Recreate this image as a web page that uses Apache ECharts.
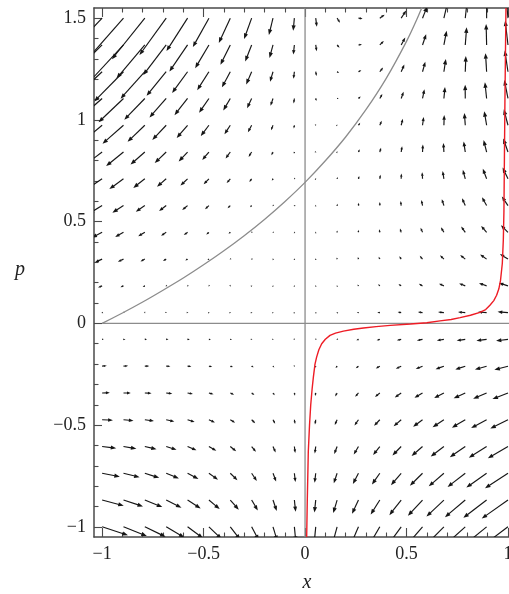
<!DOCTYPE html>
<html>
<head>
<meta charset="utf-8">
<script src="https://cdn.jsdelivr.net/npm/echarts@6/dist/echarts.min.js"></script>
<style>
html,body{margin:0;padding:0;background:#ffffff;}
#chart{width:509px;height:594px;}
</style>
</head>
<body>
<div id="chart"></div>
<script>
// ---- grid of sample points (x columns, p rows) ----
const gridX = [-1, -0.8947, -0.7895, -0.6842, -0.5789, -0.4737, -0.3684, -0.2632, -0.1579, -0.0526,
               0.0526, 0.1579, 0.2632, 0.3684, 0.4737, 0.5789, 0.6842, 0.7895, 0.8947, 1];
const gridP = [-1, -0.8684, -0.7368, -0.6053, -0.4737, -0.3421, -0.2105, -0.0789, 0.0526, 0.1842,
               0.3158, 0.4474, 0.5789, 0.7105, 0.8421, 0.9737, 1.1053, 1.2368, 1.3684, 1.5];

// ---- vector components read per row (row = p level, bottom to top) ----
const fieldDx = [
 [4.70,4.24,3.77,3.30,2.81,2.32,1.82,1.31,0.79,0.27,-0.27,-0.81,-1.36,-1.92,-2.48,-3.06,-3.64,-4.23,-4.83,-5.44],
 [3.93,3.55,3.17,2.78,2.38,1.96,1.54,1.12,0.68,0.23,-0.23,-0.70,-1.17,-1.66,-2.15,-2.66,-3.17,-3.69,-4.23,-4.77],
 [3.22,2.93,2.62,2.31,1.98,1.65,1.30,0.94,0.57,0.19,-0.20,-0.60,-1.01,-1.43,-1.86,-2.30,-2.76,-3.22,-3.69,-4.18],
 [2.57,2.35,2.12,1.88,1.62,1.35,1.07,0.78,0.48,0.16,-0.17,-0.51,-0.86,-1.22,-1.60,-1.99,-2.39,-2.80,-3.23,-3.66],
 [1.97,1.82,1.66,1.48,1.29,1.09,0.87,0.64,0.39,0.13,-0.14,-0.42,-0.72,-1.04,-1.37,-1.71,-2.06,-2.43,-2.82,-3.21],
 [1.40,1.32,1.22,1.11,0.98,0.84,0.68,0.50,0.31,0.11,-0.11,-0.35,-0.60,-0.87,-1.16,-1.46,-1.77,-2.11,-2.45,-2.82],
 [0.85,0.84,0.80,0.76,0.69,0.60,0.50,0.38,0.24,0.09,-0.09,-0.28,-0.49,-0.72,-0.97,-1.23,-1.51,-1.81,-2.13,-2.47],
 [0.32,0.37,0.40,0.42,0.41,0.38,0.33,0.26,0.17,0.06,-0.07,-0.22,-0.39,-0.58,-0.79,-1.03,-1.28,-1.56,-1.85,-2.16],
 [-0.21,-0.09,0.01,0.08,0.13,0.16,0.17,0.15,0.11,0.04,-0.05,-0.16,-0.30,-0.45,-0.64,-0.84,-1.07,-1.32,-1.60,-1.90],
 [-0.74,-0.55,-0.39,-0.25,-0.14,-0.05,0.01,0.04,0.04,0.02,-0.03,-0.10,-0.20,-0.33,-0.49,-0.67,-0.88,-1.11,-1.38,-1.66],
 [-1.28,-1.02,-0.79,-0.58,-0.41,-0.27,-0.15,-0.07,-0.02,0.00,-0.01,-0.05,-0.12,-0.22,-0.35,-0.51,-0.70,-0.92,-1.18,-1.46],
 [-1.85,-1.51,-1.20,-0.93,-0.69,-0.49,-0.32,-0.18,-0.08,-0.02,0.01,0.01,-0.03,-0.11,-0.22,-0.36,-0.54,-0.75,-1.00,-1.28],
 [-2.45,-2.02,-1.64,-1.29,-0.98,-0.71,-0.49,-0.30,-0.15,-0.04,0.03,0.06,0.05,0.00,-0.09,-0.21,-0.38,-0.59,-0.84,-1.12],
 [-3.09,-2.57,-2.10,-1.67,-1.29,-0.96,-0.66,-0.42,-0.22,-0.06,0.05,0.12,0.14,0.11,0.04,-0.07,-0.23,-0.44,-0.69,-0.98],
 [-3.78,-3.16,-2.60,-2.09,-1.62,-1.21,-0.85,-0.55,-0.29,-0.08,0.07,0.17,0.22,0.22,0.17,0.07,-0.09,-0.29,-0.55,-0.86],
 [-4.54,-3.81,-3.14,-2.53,-1.98,-1.49,-1.06,-0.68,-0.36,-0.11,0.09,0.23,0.31,0.34,0.30,0.21,0.06,-0.16,-0.43,-0.76],
 [-5.38,-4.53,-3.74,-3.03,-2.38,-1.79,-1.28,-0.83,-0.45,-0.13,0.12,0.30,0.41,0.46,0.44,0.35,0.20,-0.02,-0.31,-0.66],
 [-6.31,-5.32,-4.41,-3.57,-2.81,-2.13,-1.52,-0.99,-0.54,-0.16,0.14,0.37,0.52,0.59,0.58,0.50,0.35,0.11,-0.20,-0.58],
 [-7.35,-6.21,-5.15,-4.18,-3.30,-2.50,-1.79,-1.17,-0.64,-0.19,0.17,0.44,0.63,0.73,0.74,0.66,0.50,0.25,-0.09,-0.51],
 [-8.52,-7.20,-5.98,-4.86,-3.84,-2.92,-2.09,-1.37,-0.75,-0.22,0.20,0.53,0.75,0.88,0.91,0.83,0.66,0.39,0.02,-0.45]
];
const fieldDp = [
 [-1.54,-1.67,-1.81,-1.94,-2.07,-2.21,-2.34,-2.47,-2.60,-2.74,-2.87,-3.00,-3.14,-3.27,-3.40,-3.54,-3.67,-3.80,-3.94,-4.07],
 [-1.03,-1.15,-1.27,-1.39,-1.51,-1.64,-1.76,-1.88,-2.00,-2.12,-2.25,-2.37,-2.49,-2.61,-2.74,-2.86,-2.98,-3.10,-3.22,-3.35],
 [-0.61,-0.72,-0.83,-0.94,-1.05,-1.16,-1.27,-1.38,-1.49,-1.60,-1.71,-1.82,-1.93,-2.04,-2.15,-2.26,-2.37,-2.48,-2.59,-2.70],
 [-0.30,-0.40,-0.49,-0.59,-0.68,-0.78,-0.87,-0.97,-1.07,-1.16,-1.26,-1.35,-1.45,-1.54,-1.64,-1.73,-1.83,-1.93,-2.02,-2.12],
 [-0.08,-0.16,-0.24,-0.32,-0.40,-0.48,-0.56,-0.64,-0.71,-0.79,-0.87,-0.95,-1.03,-1.11,-1.19,-1.27,-1.35,-1.43,-1.51,-1.59],
 [0.05,-0.01,-0.07,-0.13,-0.19,-0.25,-0.31,-0.37,-0.43,-0.50,-0.56,-0.62,-0.68,-0.74,-0.80,-0.86,-0.92,-0.98,-1.04,-1.11],
 [0.10,0.06,0.02,-0.02,-0.06,-0.10,-0.14,-0.18,-0.22,-0.26,-0.30,-0.34,-0.38,-0.42,-0.46,-0.50,-0.54,-0.58,-0.62,-0.66],
 [0.06,0.05,0.03,0.02,0.00,-0.02,-0.03,-0.05,-0.06,-0.08,-0.10,-0.11,-0.13,-0.14,-0.16,-0.18,-0.19,-0.21,-0.22,-0.24],
 [-0.06,-0.05,-0.04,-0.03,-0.01,0.00,0.01,0.02,0.03,0.04,0.05,0.07,0.08,0.09,0.10,0.11,0.12,0.13,0.14,0.16],
 [-0.27,-0.23,-0.19,-0.14,-0.10,-0.06,-0.02,0.03,0.07,0.11,0.16,0.20,0.24,0.28,0.33,0.37,0.41,0.45,0.50,0.54],
 [-0.57,-0.49,-0.42,-0.34,-0.26,-0.18,-0.10,-0.03,0.05,0.13,0.21,0.29,0.37,0.44,0.52,0.60,0.68,0.76,0.83,0.91],
 [-0.97,-0.85,-0.73,-0.61,-0.50,-0.38,-0.26,-0.14,-0.02,0.10,0.22,0.34,0.45,0.57,0.69,0.81,0.93,1.05,1.17,1.29],
 [-1.47,-1.31,-1.14,-0.98,-0.81,-0.65,-0.48,-0.32,-0.15,0.01,0.18,0.34,0.51,0.67,0.84,1.00,1.17,1.33,1.50,1.66],
 [-2.09,-1.87,-1.65,-1.43,-1.22,-1.00,-0.78,-0.56,-0.34,-0.13,0.09,0.31,0.53,0.74,0.96,1.18,1.40,1.62,1.83,2.05],
 [-2.83,-2.55,-2.27,-1.99,-1.71,-1.43,-1.16,-0.88,-0.60,-0.32,-0.04,0.23,0.51,0.79,1.07,1.35,1.63,1.90,2.18,2.46],
 [-3.70,-3.35,-3.00,-2.66,-2.31,-1.96,-1.62,-1.27,-0.92,-0.58,-0.23,0.12,0.46,0.81,1.16,1.50,1.85,2.20,2.54,2.89],
 [-4.72,-4.30,-3.87,-3.45,-3.02,-2.60,-2.17,-1.75,-1.32,-0.89,-0.47,-0.04,0.38,0.81,1.23,1.66,2.08,2.51,2.93,3.36],
 [-5.91,-5.40,-4.89,-4.37,-3.86,-3.34,-2.83,-2.31,-1.80,-1.28,-0.77,-0.25,0.26,0.77,1.29,1.80,2.32,2.83,3.35,3.86],
 [-7.30,-6.68,-6.06,-5.45,-4.83,-4.21,-3.60,-2.98,-2.36,-1.75,-1.13,-0.51,0.10,0.72,1.34,1.95,2.57,3.19,3.80,4.42],
 [-8.89,-8.16,-7.43,-6.69,-5.96,-5.23,-4.50,-3.76,-3.03,-2.30,-1.56,-0.83,-0.10,0.64,1.37,2.10,2.84,3.57,4.30,5.04]
];

// ---- gray curves ----
const curveX = [-1,-0.9,-0.8,-0.7,-0.6,-0.5,-0.4,-0.3,-0.2,-0.1,0,0.1,0.2,0.3,0.4,0.5,0.55,0.6];
const curveP = [0,0.051,0.105,0.163,0.223,0.288,0.357,0.431,0.511,0.598,0.693,0.799,0.916,1.050,1.204,1.386,1.492,1.609];
const vertLineX = [0, 0];
const vertLineP = [-1.05, 1.55];
const horizLineX = [-1, 1.01];
const horizLineP = [0, 0];

// ---- red trajectory ----
const redX = [0.008,0.011,0.016,0.022,0.028,0.035,0.041,0.049,0.057,0.068,0.082,0.100,0.123,0.150,0.189,0.240,0.288,0.350,0.420,0.520,0.600,0.665,0.720,0.764,0.815,0.862,0.890,0.911,0.930,0.944,0.955,0.963,0.972,0.977,0.980,0.982,0.985,0.990];
const redP = [-1.05,-0.87,-0.63,-0.50,-0.40,-0.32,-0.264,-0.20,-0.166,-0.13,-0.10,-0.078,-0.059,-0.048,-0.038,-0.029,-0.023,-0.016,-0.010,-0.003,0.003,0.012,0.019,0.028,0.040,0.054,0.068,0.089,0.112,0.138,0.17,0.21,0.294,0.41,0.55,0.77,1.10,1.55];

// ---- ticks ----
const ticksXMajor = [-1,-0.5,0,0.5,1];
const ticksXMinor = [-0.9,-0.8,-0.7,-0.6,-0.4,-0.3,-0.2,-0.1,0.1,0.2,0.3,0.4,0.6,0.7,0.8,0.9];
const ticksPMajor = [-1,-0.5,0,0.5,1,1.5];
const ticksPMinor = [-0.9,-0.8,-0.7,-0.6,-0.4,-0.3,-0.2,-0.1,0.1,0.2,0.3,0.4,0.6,0.7,0.8,0.9,1.1,1.2,1.3,1.4];

// ---- build ----
const ARROW_SCALE = 0.0271;
const arrowData = [];
for (let j = 0; j < gridP.length; j++) {
  for (let k = 0; k < gridX.length; k++) {
    arrowData.push([gridX[k], gridP[j], fieldDx[j][k], fieldDp[j][k]]);
  }
}
const zip = (a, b) => a.map((v, i) => [v, b[i]]);

const FRAME = '#4a4a4a';
const SERIF = '"Liberation Serif", "DejaVu Serif", serif';
const fmt = v => String(v).replace('-', '\u2212');

function renderArrow(params, api) {
  const x = api.value(0), p = api.value(1), u = api.value(2), v = api.value(3);
  const s = api.coord([x, p]);
  const e = api.coord([x + u * ARROW_SCALE, p + v * ARROW_SCALE]);
  let dx = e[0] - s[0], dy = e[1] - s[1];
  let len = Math.hypot(dx, dy);
  let ux, uy;
  if (len < 1e-6) { ux = 1; uy = 0; } else { ux = dx / len; uy = dy / len; }
  const col = '#151515';
  let hl = Math.min(5.5, 1.4 + 0.32 * len);
  if (len < 1.6) {
    hl = 1.7;
    const ex = s[0] + ux * hl * 0.5, ey = s[1] + uy * hl * 0.5;
    const bx = ex - ux * hl, by = ey - uy * hl;
    const hw = 0.75;
    return {
      type: 'polygon',
      shape: { points: [[ex, ey], [bx - uy * hw, by + ux * hw], [bx + uy * hw, by - ux * hw]] },
      style: { fill: '#2a2a2a' }
    };
  }
  if (hl > len) hl = len;
  const hw = hl * 0.38;
  const bx = e[0] - ux * hl, by = e[1] - uy * hl;
  return {
    type: 'group',
    children: [
      { type: 'line', shape: { x1: s[0], y1: s[1], x2: bx + ux * 0.5, y2: by + uy * 0.5 }, style: { stroke: col, lineWidth: 1.15 } },
      { type: 'polygon', shape: { points: [[e[0], e[1]], [bx - uy * hw, by + ux * hw], [bx + uy * hw, by - ux * hw]] }, style: { fill: col } }
    ]
  };
}

const X_MIN = -1.04, X_MAX = 1.005, P_MIN = -1.05, P_MAX = 1.55;

function xAx(pos, vals, len, labels, line) {
  return {
    type: 'value', min: X_MIN, max: X_MAX, position: pos,
    axisLine: { show: !!line, onZero: false, lineStyle: { color: FRAME, width: 1.5 } },
    splitLine: { show: false },
    axisTick: { show: true, inside: true, length: len, customValues: vals, lineStyle: { color: FRAME, width: 1.1 } },
    axisLabel: labels ? { show: true, customValues: vals, formatter: fmt, margin: 8, fontFamily: SERIF, fontSize: 18, color: '#222', hideOverlap: false } : { show: false }
  };
}
function yAx(pos, vals, len, labels, line) {
  return {
    type: 'value', min: P_MIN, max: P_MAX, position: pos,
    axisLine: { show: !!line, onZero: false, lineStyle: { color: FRAME, width: 1.5 } },
    splitLine: { show: false },
    axisTick: { show: true, inside: true, length: len, customValues: vals, lineStyle: { color: FRAME, width: 1.1 } },
    axisLabel: labels ? { show: true, customValues: vals, formatter: fmt, margin: 8, fontFamily: SERIF, fontSize: 18, color: '#222' } : { show: false }
  };
}

const chart = echarts.init(document.getElementById('chart'), null, { renderer: 'canvas' });
chart.setOption({
  animation: false,
  backgroundColor: '#ffffff',
  grid: { left: 94, top: 8, right: 0, bottom: 57, show: false, containLabel: false, outerBoundsMode: 'none' },
  xAxis: [
    xAx('bottom', ticksXMajor, 9, true, true),
    xAx('bottom', ticksXMinor, 4.5, false, false),
    xAx('top', ticksXMajor, 9, false, true),
    xAx('top', ticksXMinor, 4.5, false, false)
  ],
  yAxis: [
    yAx('left', ticksPMajor, 8, true, true),
    yAx('left', ticksPMinor, 4.5, false, false)
  ],
  graphic: [
    { type: 'text', x: 307, y: 583, style: { text: 'x', font: 'italic 20px ' + SERIF, fill: '#222', textAlign: 'center', textVerticalAlign: 'middle' } },
    { type: 'text', x: 20, y: 270, style: { text: 'p', font: 'italic 20px ' + SERIF, fill: '#222', textAlign: 'center', textVerticalAlign: 'middle' } }
  ],
  series: [
    {
      type: 'custom', xAxisIndex: 0, yAxisIndex: 0, clip: true, z: 2,
      renderItem: renderArrow,
      data: arrowData,
      silent: true
    },
    {
      type: 'line', xAxisIndex: 0, yAxisIndex: 0, z: 3, showSymbol: false, clip: true,
      data: zip(vertLineX, vertLineP), lineStyle: { color: '#8c8c8c', width: 1.3 }, silent: true
    },
    {
      type: 'line', xAxisIndex: 0, yAxisIndex: 0, z: 3, showSymbol: false, clip: true,
      data: zip(horizLineX, horizLineP), lineStyle: { color: '#8c8c8c', width: 1.3 }, silent: true
    },
    {
      type: 'line', xAxisIndex: 0, yAxisIndex: 0, z: 3, showSymbol: false, clip: true, smooth: 0.2,
      data: zip(curveX, curveP), lineStyle: { color: '#8c8c8c', width: 1.3 }, silent: true
    },
    {
      type: 'line', xAxisIndex: 0, yAxisIndex: 0, z: 4, showSymbol: false, clip: true,
      data: zip(redX, redP), lineStyle: { color: '#ee1c25', width: 1.4 }, silent: true
    }
  ]
});
</script>
</body>
</html>
